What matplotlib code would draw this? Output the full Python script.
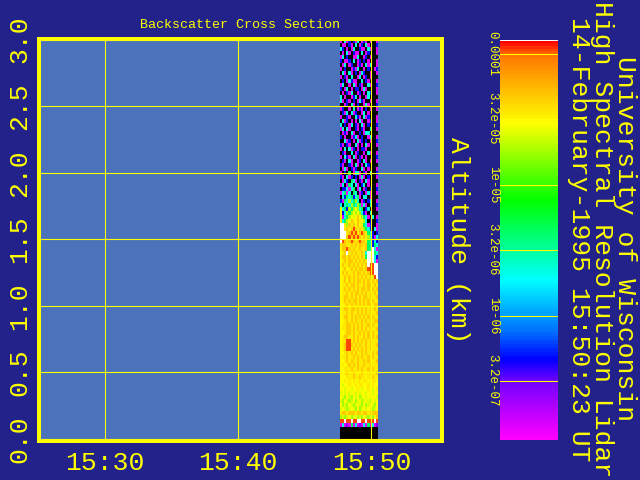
import numpy as np
import matplotlib
matplotlib.use("Agg")
import matplotlib.pyplot as plt
from matplotlib.colors import LinearSegmentedColormap, LogNorm

W, H = 640, 480
BG = "#22228a"
PANEL = "#4c72bc"
YEL = "#ffff00"
FONT = "Liberation Mono"

x_ticks = [30, 40, 50]
x_labels = ["15:30", "15:40", "15:50"]
y_ticks = [0.0, 0.5, 1.0, 1.5, 2.0, 2.5, 3.0]
y_labels = ["0.0", "0.5", "1.0", "1.5", "2.0", "2.5", "3.0"]
cbar_ticks = [1e-4, 3.2e-5, 1e-5, 3.2e-6, 1e-6, 3.2e-7]
cbar_labels = ["0.0001", "3.2e-05", "1e-05", "3.2e-06", "1e-06", "3.2e-07"]
title_lines = ["University of Wisconsin", "High Spectral Resolution Lidar",
               "14-February-1995 15:50:23 UT"]
strip_start, strip_end = 47.63, 50.41
strip_top_km, strip_bottom_km = 3.0, 0.0
cbar_min, cbar_max = 1.13e-7, 1.26e-4

# log10 backscatter, one letter per cell
level_of = dict(K=-9.0, M=-6.85, P=-6.6, B=-6.3, C=-5.65, T=-5.35, G=-5.1, L=-4.75,
                l=-4.62, Y=-4.52, y=-4.46, O=-4.34, R=-3.97, W=-3.0)
rows = [
    "MKCMBKBMCKMBMKMKKM", "KMMKBMKCKMBKCMKKKB", "CBKMKMCKKBMMKCMKKM", "KMKCMKBMMKCKMBKKKM",
    "MCKBKKMMCKKMBKMKKK", "BKMMBKCKMBKBKMKKKM", "KMCKMBKKMBMKCMCKKM", "MKBKKMBMCKKMKBKKMB",
    "KCMKCMKBKMCBKKMKKM", "MKBMKCKKMCKMBKMKKK", "KBKMCBMMKKCKBMKKKM", "MCKKMKCMKBMKKCMKKB",
    "BKMCKMKBBKMCMKKKKM", "KMKBMCKKMBKMKCBKKM", "CKMKKMBCKMKKMCKKKK", "CMKBMKBKMCBMKKMKKM",
    "KKMBKCMKBKKMCMKKKB", "MBKKMKCKMBMKBKMKKM", "KBMCKCMBKKMCKMKKKK", "MKKBMKKCBMKCMBKKKM",
    "KCMBKMKMKCMKKMBKKM", "CKBKMCKBMKCMKBKKKB", "MCKCMKKBMKBMKKCKKM", "KMBMKCMKKBKMCCKKKK",
    "BKMKKMBCMKBKKMCKKM", "KKCMBKMKCMBKBKMKKB", "BMKBMKKCMKMKCMKKKM", "MKCKCMBKMKBBMKKKKK",
    "KBMKKCKMBKKMKCMKKM", "MKCBMKCMKBMKMKKKKB", "KBMKCMKKMBKCMKMKKM", "BMKKBMKCMKMKCBKKKK",
    "KMCMKBMBKKCMKMKKKM", "MKBKTKMCCMKBMKCKKB", "BMKCMBKBKMCMKBKKKM", "KMCBKTCMKBMKCMKKKK",
    "MCKMTCKCMKBCKMKKKM", "KBBCMCTKMCKMBKBKKB", "MCTMCKTCKMBKMCMKKM", "KCBTCTBCTMKCCKMKKK",
    "BMTCLCTLCKMBKBCKKM", "CKCTCLTCLTMCMKCKKB", "lCTBLTLYLCTKBCKKKM", "YBCLTLYLYLCBMKCKKK",
    "yMCTLYlYOYLTCMKCKM", "yCTLYOyYOyYLCKBKKB", "WWyLOyOYOYyTCMBKKM", "WWyOyOROyOyLTCBKCM",
    "WWWyORORyOROyTCBKB", "WWWOROROROyOyLCBMC", "WROyOROyOROOyTCBCB", "yOOyyOyOyOOyOTCBTC",
    "YOOROyOyyOyyOTCWCM", "YyOWyOyOyyOyCWWWTC", "YOOyOyOyOyOyTWWWCB", "YyOyOOyOyOyOyWWWCM",
    "YOyyOyOyOyOyOWRRWW", "YyOYyOyOyOOyORRRWW", "YOyOyyOyOOyOyORRWW", "YyOyOyOyOyOyOyOyRW",
    "YyOYOyOyOOyOyOyOyO", "YyyOyOOyOyyOyOOyOy", "YyOyOyOyOyOOyOyOyO", "YyyOyOyOOyOyOyOyOy",
    "YyOOyOyOyOyOOyOyyO", "YyOyOyOOyOyOyOyOyy", "YYyOyOyOyOyOyOOyOO", "YyOOyOOyOyOyOyOyOy",
    "YyyOyOyyOyOyOyOyyO", "YyOOyOyOyOyOyOyOyy", "YYyOyOyOyyOyOyOyOO", "YyyOOyOyOyOyyOyOyy",
    "YyyOOyOyOyOyOyOyyO", "YYyOOyOyyOyOyOyOyy", "YyOOyyOyOyyOyOyOyO", "YyyRRyOyOyOyOyOyyy",
    "YyORROyOyOyyOyOyyO", "YyORRyOyOyOyOyOyyy", "YYyOyOyOyyOyOyyOyO", "YyyOyyOyOyOyyOyOyy",
    "YYyOyOyyOyyOyOyyyO", "YyYyOyOyOyyOyyOyyy", "YYyyyOyyOyOyyOyOyy", "YYyOyyOyyyOyyyOyyO",
    "YYYyyyOyyOyyYyyOyy", "YYyYyYyYyyYyyYyyyY", "YlYYyYYyYyyYYyYyYY", "YYlYYlYYyYlYYyYlYy",
    "lYlYlYYlYlYYlYYlYY", "YlLYlLYlYLlYlYlYYl", "lLYlLlYLlYLlYlLYlY", "YLlLYlLlYlLYLlYlLY",
    "lYlLlYlLYLlYlYlLlY", "yOOyOOOyOOyOOyOOOO", "LlLlYLlYLlLYlLlLYO", "RRWRRWRRWWRRWRRRWR",
    "MCMPMTMCMPMCMTMCMP", "KKKKKKKKKKKKKKKKKK", "KKKKKKKKKKKKKKKKKK", "KKKKKKKKKKKKKKKKKK",
]

values = np.array([[10.0 ** level_of[c] for c in row] for row in rows])

# colour stops: position along the colour bar (bottom 0 .. top 1)
stop_pos = [0.0, 0.145, 0.20, 0.27, 0.40, 0.60, 0.794, 0.965, 1.0]
stop_col = ["#ff00ff", "#7000ff", "#0000ff", "#0070ff", "#00ffff", "#00ff00",
            "#ffff00", "#ff7800", "#ff0000"]
cmap = LinearSegmentedColormap.from_list("lidar", list(zip(stop_pos, stop_col)), N=150)
cmap.set_over("#ffffff")
cmap.set_under("#000000")
norm = LogNorm(vmin=cbar_min, vmax=cbar_max)

fig = plt.figure(figsize=(W / 100, H / 100), dpi=100, facecolor=BG)


def px_axes(left, top, right, bottom):
    return fig.add_axes([left / W, 1 - bottom / H, (right - left) / W, (bottom - top) / H])


ax = px_axes(38.5, 39, 441.5, 441)
ax.set_facecolor(PANEL)
ax.imshow(values, cmap=cmap, norm=norm, aspect="auto", interpolation="nearest",
          extent=[strip_start, strip_end, strip_bottom_km, strip_top_km], origin="upper", zorder=1)
ax.set_xlim(25, 55.26)
ax.set_ylim(-0.015, 3.004)
ax.set_xticks(x_ticks, x_labels, fontfamily=FONT, fontsize=19, color=YEL)
ax.set_yticks(y_ticks, y_labels, fontfamily=FONT, fontsize=19, color=YEL,
              rotation=90, va="center")
ax.tick_params(length=0, pad=7)
ax.tick_params(axis="y", pad=5)
ax.grid(True, color=YEL, linewidth=0.8, zorder=3)
ax.set_axisbelow(False)
for s in ax.spines.values():
    s.set_color(YEL)
    s.set_linewidth(2.88)
ax.set_title("Backscatter Cross Section", fontfamily=FONT, fontsize=9.6, color=YEL, pad=8)
ax.yaxis.set_label_position("right")
ax.set_ylabel("Altitude (km)", fontfamily=FONT, fontsize=19, color=YEL, rotation=-90,
              va="center", labelpad=12)

cax = px_axes(500, 40, 558, 440)
cax.set_facecolor(BG)
edges = np.geomspace(cbar_min / 1.003, cbar_max * 1.01, 401)
centers = np.sqrt(edges[:-1] * edges[1:])
cax.pcolormesh([0, 1], edges, centers[:, None], cmap=cmap, norm=norm, shading="flat")
cax.set_yscale("log")
cax.set_ylim(edges[0], edges[-1])
cax.set_xlim(0, 1)
cax.minorticks_off()
cax.set_xticks([])
cax.set_yticks(cbar_ticks, cbar_labels, fontfamily=FONT, fontsize=9, color=YEL,
               rotation=-90, va="center")
cax.tick_params(axis="y", which="both", length=0, pad=1)
cax.tick_params(axis="y", which="minor", left=False, labelleft=False)
cax.grid(True, axis="y", which="major", color=YEL, linewidth=0.8)
cax.set_axisbelow(False)
for s in cax.spines.values():
    s.set_visible(False)

for label, x_px in zip(title_lines, [618, 595, 572]):
    fig.text(x_px / W, 1 - 239 / H, label, fontfamily=FONT, fontsize=19, color=YEL,
             rotation=-90, rotation_mode="anchor", ha="center", va="baseline")

fig.savefig("out.png", dpi=100, facecolor=BG)
